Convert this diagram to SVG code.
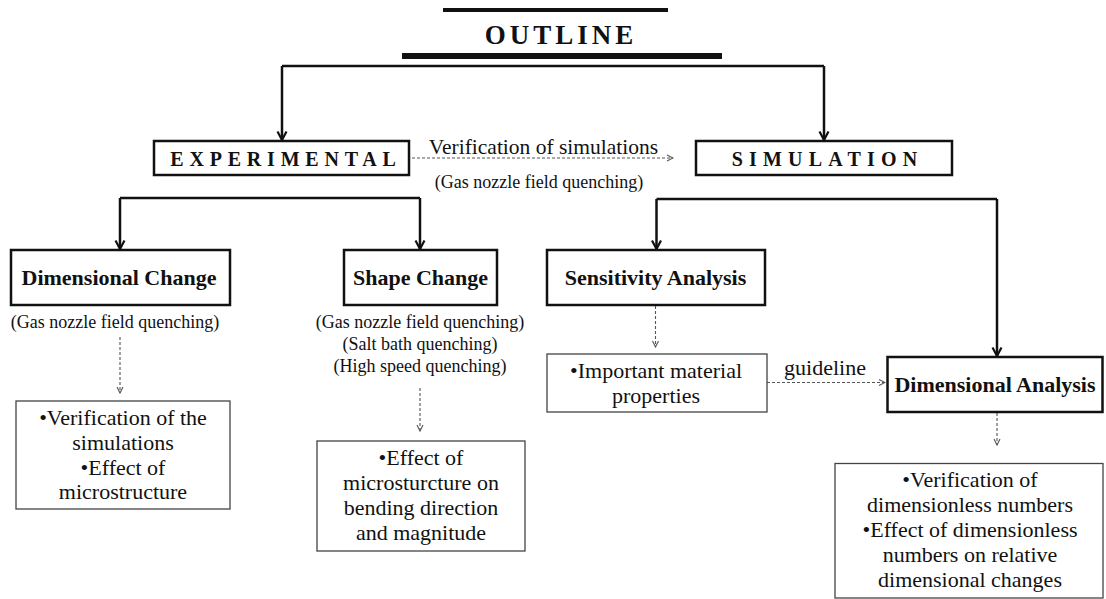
<svg xmlns="http://www.w3.org/2000/svg" width="1106" height="599" viewBox="0 0 1106 599">
<style>
  text { font-family: "Liberation Serif", "Times New Roman", serif; fill: #111; }
  .spaced { font-weight: bold; font-size: 20px; text-anchor: middle; }
  .title { font-weight: bold; font-size: 22px; text-anchor: middle; }
  .note { font-size: 18px; text-anchor: middle; }
  .body { font-size: 22px; text-anchor: middle; }
  .boxb { fill: #fff; stroke: #111; stroke-width: 2.5; }
  .boxt { fill: #fff; stroke: #444; stroke-width: 1.3; }
  .solid { fill: none; stroke: #111; stroke-width: 2.5; }
  .dash { fill: none; stroke: #555; stroke-width: 1.1; stroke-dasharray: 3 2; }
</style>
<defs>
  <marker id="ah" viewBox="0 0 12 12" refX="10.5" refY="6" markerWidth="12" markerHeight="12" markerUnits="userSpaceOnUse" orient="auto">
    <path d="M2,1.5 L10.5,6 L2,10.5" fill="none" stroke="#111" stroke-width="2.2"/>
  </marker>
  <marker id="ad" viewBox="0 0 8 8" refX="7.5" refY="4" markerWidth="8" markerHeight="8" markerUnits="userSpaceOnUse" orient="auto">
    <path d="M1.5,1 L7.5,4 L1.5,7" fill="none" stroke="#555" stroke-width="1.1"/>
  </marker>
</defs>
<rect width="1106" height="599" fill="#fff"/>

<g id="outline">
  <rect x="443" y="8" width="225" height="4" fill="#111"/>
  <text x="561" y="44" style="font-weight:bold;font-size:27px;letter-spacing:4px;text-anchor:middle;">OUTLINE</text>
  <rect x="402" y="53" width="320" height="6" fill="#111"/>
</g>

<g id="connectors">
  <path class="solid" d="M282,66 H824" />
  <path class="solid" d="M282,66 V140" marker-end="url(#ah)"/>
  <path class="solid" d="M824,66 V140" marker-end="url(#ah)"/>
  <path class="solid" d="M120,198 H420" />
  <path class="solid" d="M120,198 V249" marker-end="url(#ah)"/>
  <path class="solid" d="M420,198 V249" marker-end="url(#ah)"/>
  <path class="solid" d="M656.5,199 H997" />
  <path class="solid" d="M656.5,199 V249" marker-end="url(#ah)"/>
  <path class="solid" d="M997,199 V356" marker-end="url(#ah)"/>
  <path class="dash" d="M412,158 H673" marker-end="url(#ad)"/>
  <path class="dash" d="M120,337 V393" marker-end="url(#ad)"/>
  <path class="dash" d="M420,388 V431" marker-end="url(#ad)"/>
  <path class="dash" d="M655.5,306 V347" marker-end="url(#ad)"/>
  <path class="dash" d="M767,382.5 H885" marker-end="url(#ad)"/>
  <path class="dash" d="M997,413 V445" marker-end="url(#ad)"/>
  <text x="543.5" y="154" style="font-size:21.5px;text-anchor:middle;">Verification of simulations</text>
  <text x="539" y="188" class="note">(Gas nozzle field quenching)</text>
  <text x="825" y="375" class="body">guideline</text>
</g>

<g id="experimental">
  <rect class="boxb" x="154" y="141" width="255" height="34"/>
  <text x="286" y="166" class="spaced" style="letter-spacing:5.8px;">EXPERIMENTAL</text>
</g>

<g id="simulation">
  <rect class="boxb" x="696" y="141" width="256" height="34"/>
  <text x="827.5" y="166" class="spaced" style="letter-spacing:6.2px;">SIMULATION</text>
</g>

<g id="dimensional-change">
  <rect class="boxb" x="11" y="250" width="219" height="55"/>
  <text x="119" y="285" class="title">Dimensional Change</text>
  <text x="115" y="328" class="note">(Gas nozzle field quenching)</text>
</g>

<g id="shape-change">
  <rect class="boxb" x="344" y="250" width="153" height="55"/>
  <text x="420.5" y="285" class="title">Shape Change</text>
  <text x="420" y="328" class="note">(Gas nozzle field quenching)</text>
  <text x="420" y="350" class="note">(Salt bath quenching)</text>
  <text x="420" y="372" class="note">(High speed quenching)</text>
</g>

<g id="sensitivity-analysis">
  <rect class="boxb" x="547" y="250" width="218" height="55"/>
  <text x="655.5" y="285" class="title">Sensitivity Analysis</text>
</g>

<g id="material-properties">
  <rect class="boxt" x="547" y="354" width="220" height="58"/>
  <text x="656" y="378" class="body">•Important material</text>
  <text x="656" y="403" class="body">properties</text>
</g>

<g id="dimensional-analysis">
  <rect class="boxb" x="887.5" y="357" width="215" height="55"/>
  <text x="995" y="391.5" class="title">Dimensional Analysis</text>
</g>

<g id="verification-box">
  <rect class="boxt" x="16" y="401" width="214" height="108"/>
  <text x="123" y="425" class="body">•Verification of the</text>
  <text x="123" y="450" class="body">simulations</text>
  <text x="123" y="475" class="body">•Effect of</text>
  <text x="123" y="499" class="body">microstructure</text>
</g>

<g id="bending-box">
  <rect class="boxt" x="317" y="441" width="208" height="110"/>
  <text x="421" y="465" class="body">•Effect of</text>
  <text x="421" y="490" class="body">microsturcture on</text>
  <text x="421" y="515" class="body">bending direction</text>
  <text x="421" y="540" class="body">and magnitude</text>
</g>

<g id="dimensionless-box">
  <rect class="boxt" x="835" y="463.5" width="268" height="134.5"/>
  <text x="970" y="487" class="body">•Verification of</text>
  <text x="970" y="512" class="body">dimensionless numbers</text>
  <text x="970" y="537" class="body">•Effect of dimensionless</text>
  <text x="970" y="562" class="body">numbers on relative</text>
  <text x="970" y="587" class="body">dimensional changes</text>
</g>
</svg>
